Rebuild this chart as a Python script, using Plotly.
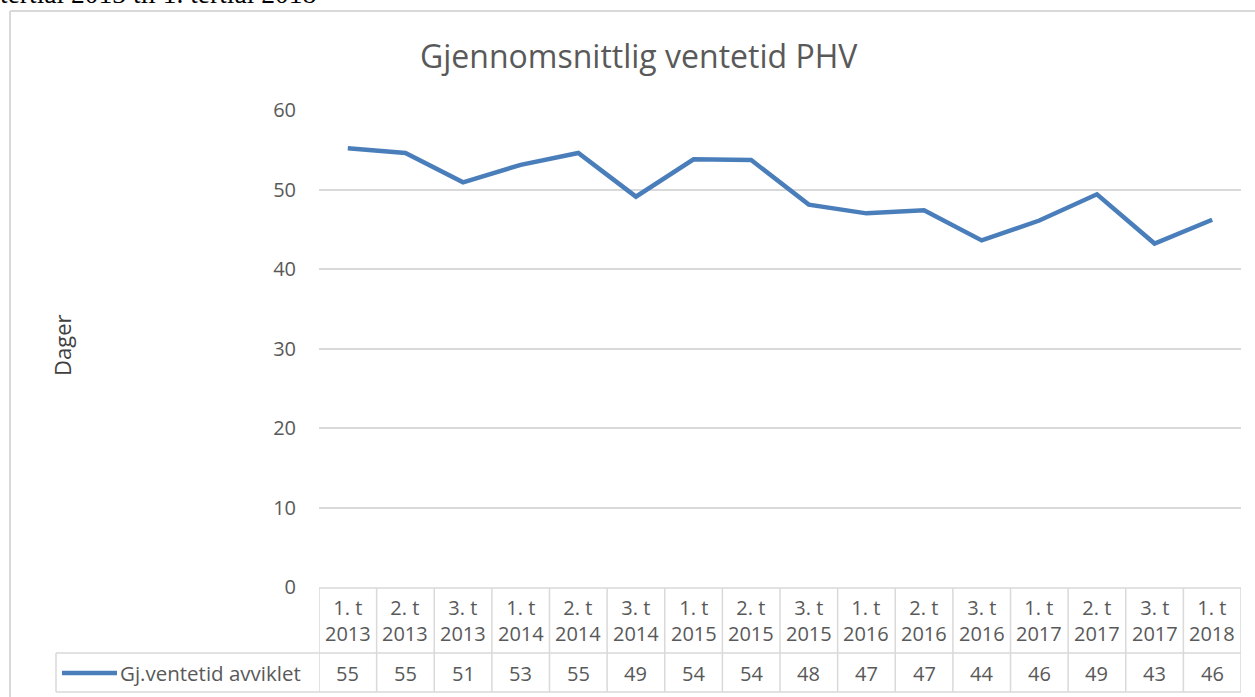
import plotly.graph_objects as go

categories = ["1. t 2013", "2. t 2013", "3. t 2013", "1. t 2014", "2. t 2014", "3. t 2014",
              "1. t 2015", "2. t 2015", "3. t 2015", "1. t 2016", "2. t 2016", "3. t 2016",
              "1. t 2017", "2. t 2017", "3. t 2017", "1. t 2018"]
values = [55.2, 54.6, 50.9, 53.1, 54.6, 49.1, 53.8, 53.7, 48.1, 47.0, 47.4, 43.6, 46.1, 49.4, 43.2, 46.2]
series_name = "Gj.ventetid avviklet"
title_text = "Gjennomsnittlig ventetid PHV"
y_title = "Dager"
y_ticks = [0, 10, 20, 30, 40, 50, 60]
caption = "tertial 2013 til 1. tertial 2018"

W, H = 1255, 697
L, R, T, B = 319, 14, 110, 110
PW, PH = W - L - R, H - T - B
FONT = "Open Sans"
GREY = "#595959"
GRID = "#d9d9d9"
BLUE = "#4a7ebb"


def px(p):
    return (p - L) / PW


def py(p):
    return (H - B - p) / PH


fig = go.Figure()
fig.add_trace(go.Scatter(x=categories, y=values, mode="lines", name=series_name,
                         line=dict(color=BLUE, width=4.5), showlegend=False,
                         hoverinfo="y"))

shapes = []
annotations = []
n = len(categories)
line_style = dict(color=GRID, width=1.5)
y_top, y_mid, y_bot = 588, 653, 692
# horizontal table lines
shapes.append(dict(type="line", xref="x", yref="paper", x0=-0.5, x1=n - 0.5,
                   y0=py(y_top), y1=py(y_top), line=line_style))
for yy in (y_mid, y_bot):
    shapes.append(dict(type="line", xref="paper", yref="paper", x0=px(56), x1=1.0,
                       y0=py(yy), y1=py(yy), line=line_style))
# vertical table lines
for i in range(n + 1):
    shapes.append(dict(type="line", xref="x", yref="paper", x0=i - 0.5, x1=i - 0.5,
                       y0=py(y_top), y1=py(y_bot), line=line_style))
shapes.append(dict(type="line", xref="paper", yref="paper", x0=px(56), x1=px(56),
                   y0=py(y_mid), y1=py(y_bot), line=line_style))
# legend key
shapes.append(dict(type="line", xref="paper", yref="paper", x0=px(62), x1=px(117),
                   y0=py(673), y1=py(673), line=dict(color=BLUE, width=4.5)))
# outer frame (left and top visible)
shapes.append(dict(type="line", xref="paper", yref="paper", x0=px(10), x1=px(10),
                   y0=py(11), y1=py(H + 5), line=dict(color=GRID, width=2)))
shapes.append(dict(type="line", xref="paper", yref="paper", x0=px(10), x1=px(W + 5),
                   y0=py(11), y1=py(11), line=dict(color=GRID, width=2)))

tf = dict(family=FONT, size=20, color=GREY)
for c, v in zip(categories, values):
    a, b = c.rsplit(" ", 1)
    annotations.append(dict(xref="x", yref="paper", x=c, y=py(620), text=a + "<br>" + b,
                            showarrow=False, font=tf, xanchor="center", yanchor="middle"))
    annotations.append(dict(xref="x", yref="paper", x=c, y=py(673), text=str(round(v)),
                            showarrow=False, font=tf, xanchor="center", yanchor="middle"))
annotations.append(dict(xref="paper", yref="paper", x=px(118), y=py(673), text=series_name,
                        showarrow=False, font=dict(family=FONT, size=20.5, color=GREY),
                        xanchor="left", yanchor="middle"))
annotations.append(dict(xref="paper", yref="paper", x=px(639), y=py(55), text=title_text,
                        showarrow=False, font=dict(family=FONT, size=32, color=GREY),
                        xanchor="center", yanchor="middle"))
annotations.append(dict(xref="paper", yref="paper", x=px(62), y=py(346), text=y_title,
                        showarrow=False, font=dict(family=FONT, size=22, color="#404040"),
                        textangle=-90, xanchor="center", yanchor="middle"))
annotations.append(dict(xref="paper", yref="paper", x=px(-2), y=py(10.5), text=caption,
                        showarrow=False, font=dict(family="Liberation Serif", size=27.5, color="#000000"),
                        xanchor="left", yanchor="bottom"))

fig.update_layout(
    width=W, height=H,
    margin=dict(l=L, r=R, t=T, b=B, pad=0),
    paper_bgcolor="white", plot_bgcolor="white",
    shapes=shapes, annotations=annotations,
    xaxis=dict(type="category", range=[-0.5, n - 0.5], showticklabels=False,
               showgrid=False, zeroline=False, showline=False, ticks=""),
    yaxis=dict(range=[0, 60], tickvals=y_ticks, showgrid=True, gridcolor=GRID, gridwidth=1.5,
               zeroline=False, showline=False, ticks="",
               tickfont=dict(family=FONT, size=20, color=GREY), ticklabelstandoff=22),
)

fig.write_html("out.html", config={"displayModeBar": False},
               post_script="document.body.style.margin='0';")
